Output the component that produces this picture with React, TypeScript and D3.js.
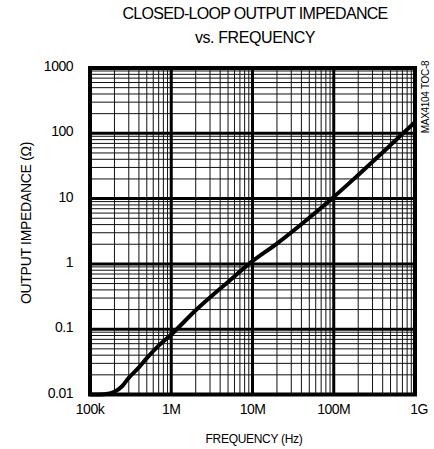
import React from "react";
import * as d3 from "d3";

const frequencies = [1e5, 1.5e5, 2e5, 2.5e5, 3e5, 4e5, 5e5, 7e5, 1e6, 2e6, 5e6, 1e7, 2e7, 5e7, 1e8, 2e8, 5e8, 1e9];
const impedance = [0.01, 0.0101, 0.011, 0.0135, 0.018, 0.026, 0.036, 0.056, 0.083, 0.195, 0.53, 1.1, 2.05, 5.1, 10.6, 23, 66, 148];
const xTickValues = [1e5, 1e6, 1e7, 1e8, 1e9];
const xTickLabels = ["100k", "1M", "10M", "100M", "1G"];
const yTickValues = [0.01, 0.1, 1, 10, 100, 1000];
const yTickLabels = ["0.01", "0.1", "1", "10", "100", "1000"];

const FONT = "'Liberation Sans', Arial, sans-serif";

export default function App() {
  const W = 434, H = 449;
  const left = 90, right = 415, top = 68, bottom = 394.5;
  const x = d3.scaleLog().domain([1e5, 1e9]).range([left, right]);
  const y = d3.scaleLog().domain([0.01, 1000]).range([bottom, top]);

  const minorX: number[] = [];
  for (let e = 5; e < 9; e++) for (let k = 2; k <= 9; k++) minorX.push(k * Math.pow(10, e));
  const minorY: number[] = [];
  for (let e = -2; e < 3; e++) for (let k = 2; k <= 9; k++) minorY.push(k * Math.pow(10, e));

  const pts: [number, number][] = frequencies.map((f, i) => [f, impedance[i]]);
  const line = d3.line<[number, number]>().x(d => x(d[0])).y(d => y(d[1])).curve(d3.curveMonotoneX);

  return (
    <svg width={W} height={H} style={{ position: "absolute", left: 0, top: 0, background: "#fff" }} fontFamily={FONT}>
      <rect x={0} y={0} width={W} height={H} fill="#fff" />
      <text x={255} y={19} fontSize={16} textAnchor="middle" fill="#000" letterSpacing={-0.7}>CLOSED-LOOP OUTPUT IMPEDANCE</text>
      <text x={255} y={43} fontSize={16} textAnchor="middle" fill="#000" letterSpacing={-0.4}>vs. FREQUENCY</text>

      {minorX.map((v, i) => (
        <line key={"mx" + i} x1={x(v)} x2={x(v)} y1={top} y2={bottom} stroke="#111" strokeWidth={1} />
      ))}
      {minorY.map((v, i) => (
        <line key={"my" + i} x1={left} x2={right} y1={y(v)} y2={y(v)} stroke="#111" strokeWidth={1} />
      ))}
      {xTickValues.map((v, i) => (
        <line key={"Mx" + i} x1={x(v)} x2={x(v)} y1={top} y2={bottom} stroke="#000" strokeWidth={3} />
      ))}
      {yTickValues.map((v, i) => (
        <line key={"My" + i} x1={left} x2={right} y1={y(v)} y2={y(v)} stroke="#000" strokeWidth={3} />
      ))}
      <rect x={left} y={top} width={right - left} height={bottom - top} fill="none" stroke="#000" strokeWidth={4} />

      <path d={line(pts) || ""} fill="none" stroke="#000" strokeWidth={4} strokeLinejoin="round" />

      {yTickValues.map((v, i) => (
        <text key={"yl" + i} x={73} y={y(v) + 3} fontSize={14} textAnchor="end" fill="#000" letterSpacing={-0.5}>{yTickLabels[i]}</text>
      ))}
      {xTickValues.map((v, i) => (
        <text key={"xl" + i} x={x(v) + (i === xTickValues.length - 1 ? 4 : 0)} y={414} fontSize={14} textAnchor="middle" fill="#000" letterSpacing={-0.5}>{xTickLabels[i]}</text>
      ))}
      <text x={254} y={443} fontSize={12} textAnchor="middle" fill="#000" letterSpacing={-0.3}>FREQUENCY (Hz)</text>
      <text transform={`translate(31, 223) rotate(-90)`} fontSize={14} textAnchor="middle" fill="#000" letterSpacing={-0.3}>OUTPUT IMPEDANCE (Ω)</text>
      <text transform={`translate(429, 97) rotate(-90)`} fontSize={10} textAnchor="middle" fill="#000" letterSpacing={-0.3}>MAX4104 TOC-8</text>
    </svg>
  );
}
